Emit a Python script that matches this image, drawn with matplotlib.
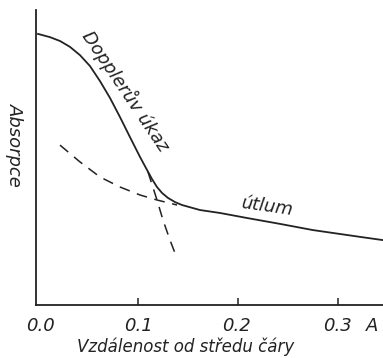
import numpy as np
import matplotlib.pyplot as plt

# solid curve: absorption vs distance from line centre
x_solid = [0.000, 0.012, 0.022, 0.032, 0.042, 0.052, 0.062, 0.072, 0.082,
           0.092, 0.102, 0.109, 0.114, 0.119, 0.124, 0.130, 0.137, 0.144,
           0.162, 0.182, 0.209, 0.242, 0.275, 0.322, 0.345]
y_solid = [0.919, 0.908, 0.895, 0.875, 0.847, 0.810, 0.759, 0.702, 0.637,
           0.569, 0.502, 0.458, 0.427, 0.400, 0.380, 0.363, 0.349, 0.339,
           0.322, 0.312, 0.295, 0.275, 0.254, 0.231, 0.220]

# dashed extension of the damping part
x_damp = [0.022, 0.042, 0.062, 0.082, 0.102, 0.119, 0.139]
y_damp = [0.542, 0.485, 0.434, 0.400, 0.373, 0.356, 0.339]

# dashed extension of the Doppler part
x_dopp = [0.110, 0.119, 0.125, 0.132, 0.137]
y_dopp = [0.451, 0.356, 0.288, 0.220, 0.176]

xticks = [0.1, 0.2, 0.3]
xlabels = ["0.0", "0.1", "0.2", "0.3", "A"]
xlabel_pos = [0.002, 0.100, 0.198, 0.299, 0.334]

col = "#222222"
fam = ["Liberation Sans Narrow", "DejaVu Sans"]

fig = plt.figure(figsize=(3.83, 3.58), dpi=100)
ax = fig.add_axes([0.094, 0.148, 0.906, 0.824])
ax.plot(x_solid, y_solid, color=col, lw=1.3)
ax.plot(x_damp, y_damp, color=col, lw=1.1, dashes=(7, 5))
ax.plot(x_dopp, y_dopp, color=col, lw=1.1, dashes=(7, 5))

ax.set_xlim(-0.002, 0.345)
ax.set_ylim(0, 1)
for s in ["top", "right"]:
    ax.spines[s].set_visible(False)
for s in ["left", "bottom"]:
    ax.spines[s].set_color(col)
    ax.spines[s].set_linewidth(1.3)
ax.set_yticks([])
ax.set_xticks(xticks)
ax.set_xticklabels([])
ax.tick_params(axis="x", direction="in", length=5, width=1.1, color=col)

for xp, lab in zip(xlabel_pos, xlabels):
    ax.text(xp, -0.04, lab, ha="center", va="top", fontsize=13,
            style="italic", family=fam, color=col)

ax.text(0.43, -0.11, "Vzdálenost od středu čáry", transform=ax.transAxes,
        ha="center", va="top", fontsize=12, style="italic", family=fam, color=col)
fig.text(0.04, 0.595, "Absorpce", rotation=-90, ha="center", va="center",
         fontsize=13, style="italic", family=fam, color=col)

ax.text(0.088, 0.726, "Dopplerův úkaz", rotation=-56, ha="center", va="center",
        fontsize=13, style="italic", family=fam, color=col)
ax.text(0.230, 0.332, "útlum", rotation=-8, ha="center", va="center",
        fontsize=13, style="italic", family=fam, color=col)

fig.savefig("out.png", dpi=100)
